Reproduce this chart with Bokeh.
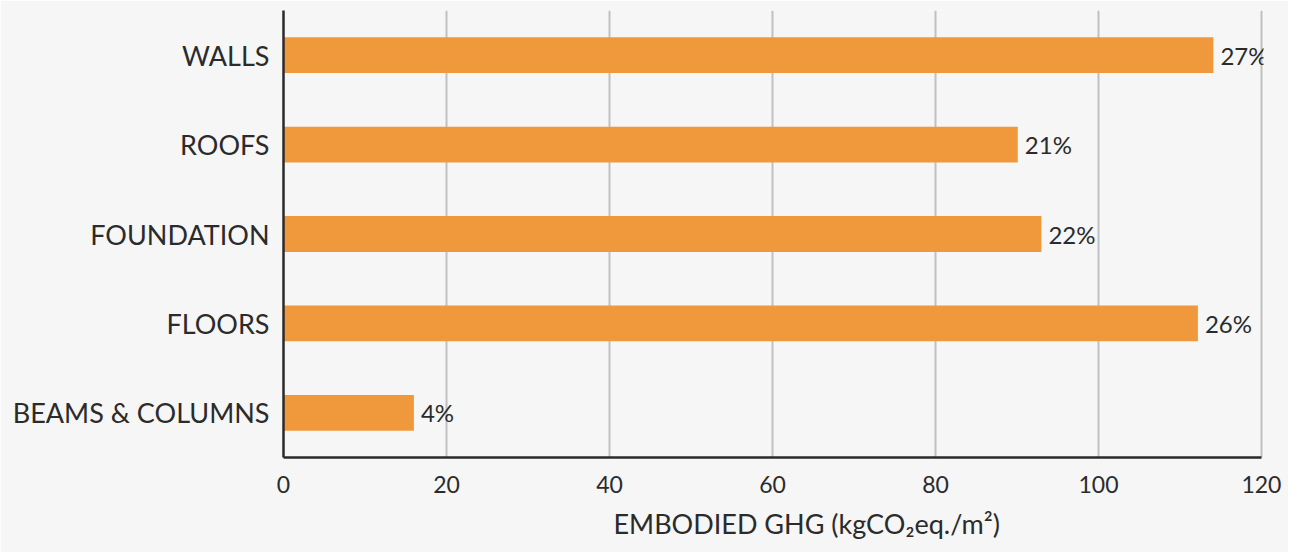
from bokeh.plotting import figure
from bokeh.models import FactorRange, Range1d, FixedTicker, Title, ColumnDataSource
from bokeh.core.properties import value
from bokeh.embed import file_html
from bokeh.resources import INLINE

categories = ["WALLS", "ROOFS", "FOUNDATION", "FLOORS", "BEAMS & COLUMNS"]
values = [114.1, 90.1, 93.0, 112.2, 16.0]
share_labels = ["27%", "21%", "22%", "26%", "4%"]
x_ticks = [0, 20, 40, 60, 80, 100, 120]
x_title = "EMBODIED GHG (kgCO\u2082eq./m\u00b2)"

FONT = "Lato"
TEXT = "#2b2b2b"
BG = "#f5f6f5"
BAR = "#f0993c"

src = ColumnDataSource(dict(cat=categories, val=values, lab=share_labels))

p = figure(
    width=1288, height=552,
    y_range=FactorRange(factors=list(reversed(categories))),
    x_range=Range1d(0, 120.25),
    output_backend="svg", toolbar_location=None,
    min_border_left=283, min_border_right=25, min_border_top=10, min_border_bottom=95,
)
p.background_fill_color = BG
p.border_fill_color = BG
p.outline_line_color = None

p.hbar(y="cat", right="val", left=0, height=0.40, source=src, fill_color=BAR, line_color=None)
p.text(x="val", y="cat", text="lab", source=src, x_offset=7, text_baseline="middle",
       text_align="left", text_font=value(FONT), text_font_size="24px", text_color=TEXT)

# grid
p.ygrid.grid_line_color = None
p.xgrid.ticker = FixedTicker(ticks=x_ticks)
p.xgrid.grid_line_color = "#c0c1c3"
p.xgrid.grid_line_width = 2

# x axis
p.xaxis.ticker = FixedTicker(ticks=x_ticks)
p.xaxis.bounds = (0, 120)
p.xaxis.axis_line_color = "#2a2a2a"
p.xaxis.axis_line_width = 2.5
p.xaxis.major_tick_line_color = None
p.xaxis.minor_tick_line_color = None
p.xaxis.major_tick_out = 0
p.xaxis.major_label_standoff = 18
p.xaxis.major_label_text_font = FONT
p.xaxis.major_label_text_font_size = "23px"
p.xaxis.major_label_text_color = TEXT

# y axis
p.yaxis.axis_line_color = "#2a2a2a"
p.yaxis.axis_line_width = 2.5
p.yaxis.major_tick_line_color = None
p.yaxis.minor_tick_line_color = None
p.yaxis.major_tick_out = 0
p.yaxis.major_label_standoff = 14
p.yaxis.major_label_text_font = FONT
p.yaxis.major_label_text_font_size = "27px"
p.yaxis.major_label_text_color = TEXT

t = Title(text=x_title, align="left", offset=330,
          text_font=FONT, text_font_size="27px", text_font_style="normal",
          text_color=TEXT, standoff=18)
p.add_layout(t, "below")

open("out.html", "w").write(file_html(p, INLINE))
